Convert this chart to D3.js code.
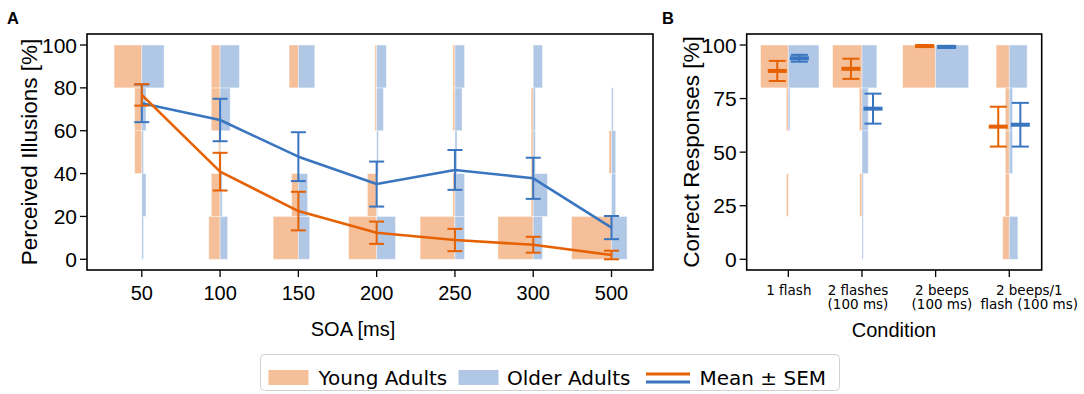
<!DOCTYPE html>
<html>
<head>
<meta charset="utf-8">
<script src="https://cdn.jsdelivr.net/npm/d3@7"></script>
<style>
  body { margin: 0; background: #fff; }
  svg { display: block; }
</style>
</head>
<body>
<div id="container"></div>
<script>
/**
 * DATA
 * histogram values are % of the group per 20% bin: [0-20, 20-40, 40-60, 60-80, 80-100]
 * */
const soaLabels = ["50", "100", "150", "200", "250", "300", "500"];
const binStarts = [0, 20, 40, 60, 80];

const youngHistA = [[0, 0, 17, 17, 66], [27, 21, 4, 21, 21], [60, 16, 0, 0, 22], [67, 22, 0, 4, 4],
                    [83, 5, 0, 5, 5], [84, 5, 5, 5, 0], [95, 0, 6, 0, 0]];
const olderHistA = [[4, 10, 4, 10, 53], [18, 5, 2, 24, 46], [27, 22, 0, 0, 39], [45, 2, 4, 16, 23],
                    [23, 23, 5, 17, 23], [22, 34, 5, 5, 22], [37, 10, 10, 4, 0]];
const youngMeanA = [76.7, 40.9, 22.5, 12.4, 9.0, 6.8, 2.0];
const youngSemA  = [5.0, 8.8, 9.0, 5.2, 5.2, 3.7, 2.0];
const olderMeanA = [72.8, 65.0, 47.9, 35.1, 41.7, 37.8, 14.8];
const olderSemA  = [8.8, 9.9, 11.4, 10.5, 9.3, 9.6, 5.4];

const conditions = [["1 flash"], ["2 flashes", "(100 ms)"], ["2 beeps", "(100 ms)"], ["2 beeps/1", "flash (100 ms)"]];
const youngHistB = [[0, 6, 0, 6, 84], [0, 7, 0, 8, 89], [0, 0, 0, 0, 100], [20, 12, 12, 12, 40]];
const olderHistB = [[0, 0, 0, 5, 93], [4, 4, 19, 19, 45], [0, 0, 0, 0, 100], [26, 0, 10, 10, 54]];
const youngMeanB = [87.9, 88.9, 99.5, 61.9];
const youngSemB  = [4.7, 4.7, 0.3, 9.3];
const olderMeanB = [93.8, 70.3, 99.1, 62.8];
const olderSemB  = [1.6, 7.0, 0.5, 10.2];

const tickA = [0, 20, 40, 60, 80, 100];
const tickB = [0, 25, 50, 75, 100];

/**
 * CONSTANTS
 * */
const width = 1084, height = 394;
const orange = "#e66101", blue = "#3a75c0";
const font = "'Liberation Sans', Arial, sans-serif";
const dejavu = "'DejaVu Sans', sans-serif";
// condition labels sit a little off their ticks in the original
const condNudge = [0.5, -4, 6.3, 20];

const svg = d3.select("#container").append("svg")
  .attr("width", width).attr("height", height);

// SCALES
const yScale = d3.scaleLinear().domain([0, 100]).range([259.3, 45]);
const xA = d3.scaleLinear().domain([-0.7, 6.53]).range([87, 653]);
const xB = d3.scaleLinear().domain([-0.565, 3.44]).range([746.7, 1041.7]);
const wA = d3.scaleLinear().domain([0, 100]).range([0, 42]);
const wB = d3.scaleLinear().domain([0, 100]).range([0, 33]);

function histBars(g, hist, x, w, side, color) {
  const cells = [];
  hist.forEach((row, i) => row.forEach((v, b) => { if (v > 0) cells.push({ i, b, v }); }));
  g.selectAll(null)
    .data(cells)
    .join("rect")
    .attr("x", d => side < 0 ? x(d.i) - w(d.v) : x(d.i))
    .attr("width", d => w(d.v))
    .attr("y", d => yScale(binStarts[d.b] + 20))
    .attr("height", d => yScale(binStarts[d.b]) - yScale(binStarts[d.b] + 20))
    .attr("fill", color).attr("fill-opacity", 0.4)
    .attr("stroke", "#fff").attr("stroke-opacity", 0.5).attr("stroke-width", 0.8);
}

function errorBars(g, mean, sem, xpos, color, cap) {
  const d = mean.map((m, i) => ({ x: xpos(i), m, s: sem[i] }));
  g.selectAll(null).data(d).join("line")
    .attr("x1", e => e.x).attr("x2", e => e.x)
    .attr("y1", e => yScale(e.m - e.s)).attr("y2", e => yScale(e.m + e.s))
    .attr("stroke", color).attr("stroke-width", 2);
  [-1, 1].forEach(sg => {
    g.selectAll(null).data(d).join("line")
      .attr("x1", e => e.x - cap).attr("x2", e => e.x + cap)
      .attr("y1", e => yScale(e.m + sg * e.s)).attr("y2", e => yScale(e.m + sg * e.s))
      .attr("stroke", color).attr("stroke-width", 2);
  });
}

function frame(g, x0, x1, ticks, tickPos) {
  // y ticks
  g.selectAll(null).data(ticks).join("line")
    .attr("x1", x0 - 7).attr("x2", x0)
    .attr("y1", d => yScale(d)).attr("y2", d => yScale(d))
    .attr("stroke", "#000").attr("stroke-width", 1.3);
  g.selectAll(null).data(ticks).join("text")
    .attr("x", x0 - 10).attr("y", d => yScale(d) + 7.5)
    .attr("text-anchor", "end")
    .style("font-family", font).style("font-size", "21px")
    .text(d => d);
  // x ticks
  g.selectAll(null).data(tickPos).join("line")
    .attr("x1", d => d).attr("x2", d => d)
    .attr("y1", 270).attr("y2", 277)
    .attr("stroke", "#000").attr("stroke-width", 1.3);
  g.append("rect")
    .attr("x", x0).attr("y", 34).attr("width", x1 - x0).attr("height", 236)
    .attr("fill", "none").attr("stroke", "#000").attr("stroke-width", 1.6);
}

/**
 * PANEL A
 * */
const gA = svg.append("g");
histBars(gA, youngHistA, xA, wA, -1, orange);
histBars(gA, olderHistA, xA, wA, 1, blue);

const lineA = d3.line().x((d, i) => xA(i)).y(d => yScale(d));
gA.append("path").attr("d", lineA(olderMeanA)).attr("fill", "none")
  .attr("stroke", blue).attr("stroke-width", 2.6).attr("stroke-linejoin", "round");
errorBars(gA, olderMeanA, olderSemA, xA, blue, 7.5);
gA.append("path").attr("d", lineA(youngMeanA)).attr("fill", "none")
  .attr("stroke", orange).attr("stroke-width", 2.6).attr("stroke-linejoin", "round");
errorBars(gA, youngMeanA, youngSemA, xA, orange, 7.5);

frame(gA, 87, 653, tickA, soaLabels.map((d, i) => xA(i)));
gA.selectAll(null).data(soaLabels).join("text")
  .attr("x", (d, i) => xA(i)).attr("y", 299.5)
  .attr("text-anchor", "middle")
  .style("font-family", font).style("font-size", "20px")
  .text(d => d);

gA.append("text").attr("x", 353).attr("y", 336).attr("text-anchor", "middle")
  .style("font-family", font).style("font-size", "20px").text("SOA [ms]");
gA.append("text").attr("transform", "translate(37,152) rotate(-90)")
  .attr("text-anchor", "middle")
  .style("font-family", font).style("font-size", "22.5px").text("Perceived Illusions [%]");
gA.append("text").attr("x", 7).attr("y", 23.5)
  .style("font-family", font).style("font-size", "16.5px").style("font-weight", "bold").text("A");

/**
 * PANEL B
 * */
const gB = svg.append("g");
histBars(gB, youngHistB, xB, wB, -1, orange);
histBars(gB, olderHistB, xB, wB, 1, blue);

const off = 0.15;
const xBy = i => xB(i - off), xBo = i => xB(i + off);
errorBars(gB, olderMeanB, olderSemB, xBo, blue, 8.5);
errorBars(gB, youngMeanB, youngSemB, xBy, orange, 8.5);
[[youngMeanB, xBy, orange], [olderMeanB, xBo, blue]].forEach(([m, xp, c]) => {
  gB.selectAll(null).data(m).join("line")
    .attr("x1", (d, i) => xp(i) - 9.5).attr("x2", (d, i) => xp(i) + 9.5)
    .attr("y1", d => yScale(d)).attr("y2", d => yScale(d))
    .attr("stroke", c).attr("stroke-width", 4);
});

frame(gB, 746.7, 1041.7, tickB, conditions.map((d, i) => xB(i)));
const condText = gB.selectAll(null).data(conditions).join("text")
  .attr("text-anchor", "middle")
  .style("font-family", dejavu).style("font-size", "13.5px");
condText.selectAll("tspan").data((d, i) => d.map(t => ({ t, i })))
  .join("tspan")
  .attr("x", d => xB(d.i) + condNudge[d.i]).attr("y", (d, j) => 295 + j * 14)
  .text(d => d.t);

gB.append("text").attr("x", 894).attr("y", 336.5).attr("text-anchor", "middle")
  .style("font-family", font).style("font-size", "20px").text("Condition");
gB.append("text").attr("transform", "translate(699,152) rotate(-90)")
  .attr("text-anchor", "middle")
  .style("font-family", font).style("font-size", "22.5px").text("Correct Responses [%]");
gB.append("text").attr("x", 662).attr("y", 23.5)
  .style("font-family", font).style("font-size", "16.5px").style("font-weight", "bold").text("B");

/**
 * LEGEND
 * */
const leg = svg.append("g");
leg.append("rect").attr("x", 260.5).attr("y", 354.5).attr("width", 579).attr("height", 36)
  .attr("rx", 4).attr("fill", "#fff").attr("stroke", "#d0d0d0").attr("stroke-width", 1);
const legItems = [
  { label: "Young Adults", x: 268.5, tx: 318.5, kind: "patch", color: orange },
  { label: "Older Adults", x: 458.5, tx: 507, kind: "patch", color: blue },
  { label: "Mean \u00b1 SEM", x: 646, tx: 699.5, kind: "line" }
];
legItems.forEach(d => {
  if (d.kind === "patch") {
    leg.append("rect").attr("x", d.x).attr("y", 370).attr("width", 40).attr("height", 15)
      .attr("fill", d.color).attr("fill-opacity", 0.4);
  } else {
    leg.append("line").attr("x1", d.x).attr("x2", d.x + 44).attr("y1", 374).attr("y2", 374)
      .attr("stroke", orange).attr("stroke-width", 3);
    leg.append("line").attr("x1", d.x).attr("x2", d.x + 44).attr("y1", 382).attr("y2", 382)
      .attr("stroke", blue).attr("stroke-width", 3);
  }
  leg.append("text").attr("x", d.tx).attr("y", 385)
    .style("font-family", dejavu).style("font-size", "20px").text(d.label);
});
</script>
</body>
</html>
